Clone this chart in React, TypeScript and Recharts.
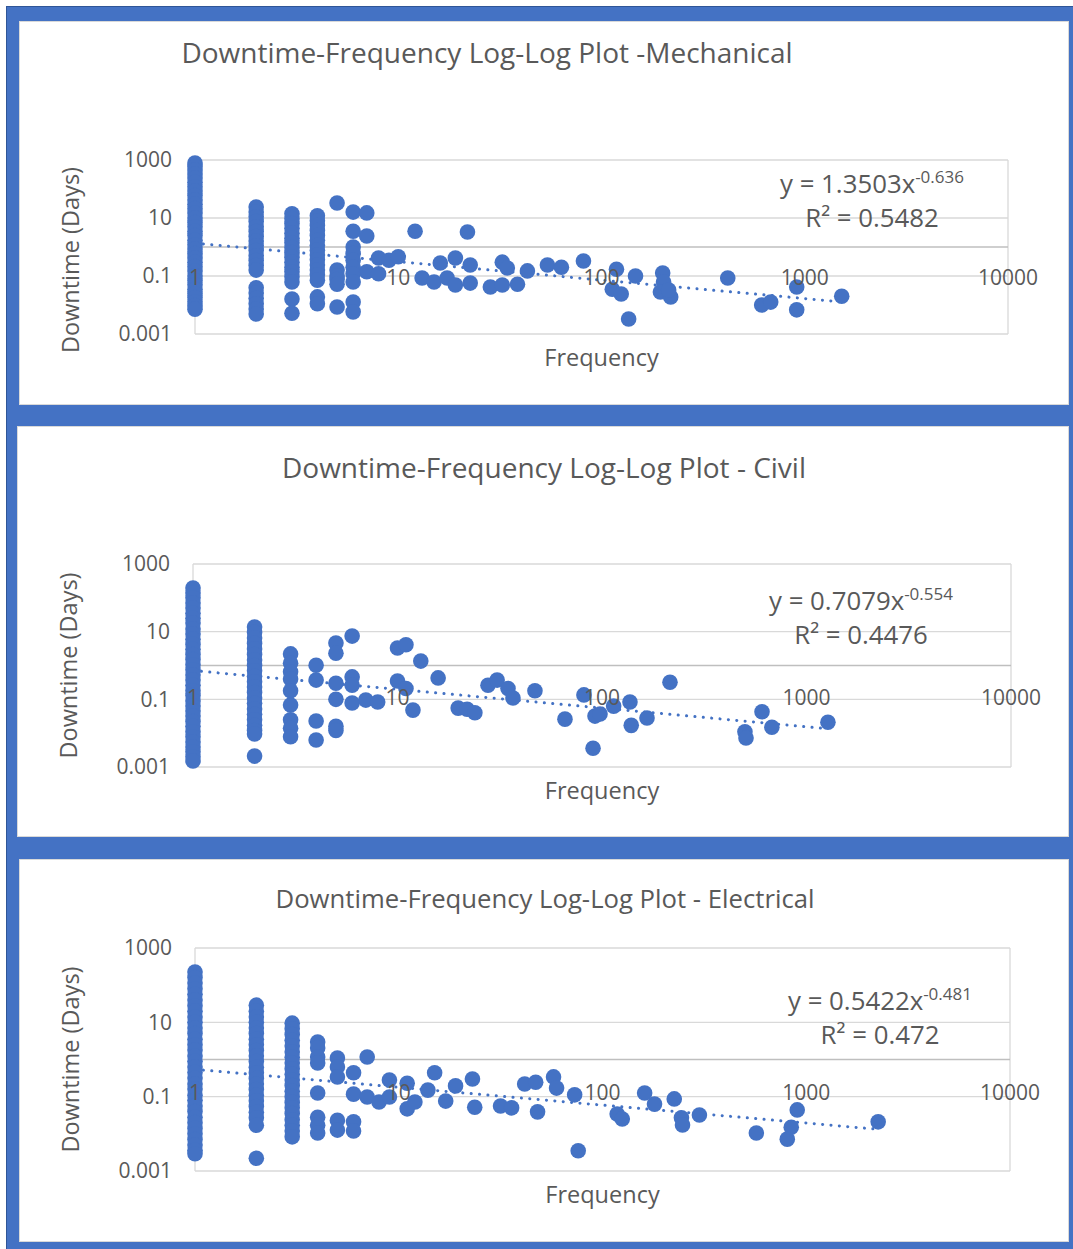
import React from "react";
import {
  ScatterChart,
  Scatter,
  XAxis,
  YAxis,
  CartesianGrid,
  ReferenceLine,
  ReferenceDot,
} from "recharts";

const FONT = "'Open Sans', 'Noto Sans', sans-serif";
const BLUE = "#4472C4";
const GREY_TEXT = "#595959";

const X_TICKS = [1, 10, 100, 1000, 10000];
const Y_TICKS = [0.001, 0.1, 10, 1000];

// [frequency, downtime in days]
const mechanical: [number, number][] = [
  [1, 790], [1, 600], [1, 450], [1, 330], [1, 240], [1, 170], [1, 120], [1, 85], [1, 60],
  [1, 42], [1, 30], [1, 21], [1, 15], [1, 10], [1, 7], [1, 5], [1, 3.5], [1, 2.5], [1, 1.7],
  [1, 1.2], [1, 0.85], [1, 0.6], [1, 0.42], [1, 0.3], [1, 0.21], [1, 0.15], [1, 0.1],
  [1, 0.07], [1, 0.05], [1, 0.035], [1, 0.025], [1, 0.018], [1, 0.013], [1, 0.0095], [1, 0.0072],
  [2, 24], [2, 16], [2, 11], [2, 7.5], [2, 5], [2, 3.4], [2, 2.3], [2, 1.6], [2, 1.1], [2, 0.75],
  [2, 0.5], [2, 0.34], [2, 0.23], [2, 0.16], [2, 0.039], [2, 0.026], [2, 0.017], [2, 0.011],
  [2, 0.0073], [2, 0.0049],
  [3, 14], [3, 9.5], [3, 6.5], [3, 4.4], [3, 3], [3, 2], [3, 1.4], [3, 0.95], [3, 0.65],
  [3, 0.44], [3, 0.3], [3, 0.2], [3, 0.14], [3, 0.095], [3, 0.062], [3, 0.016], [3, 0.0052],
  [4, 12], [4, 8], [4, 5.5], [4, 3.7], [4, 2.5], [4, 1.7], [4, 1.15], [4, 0.78], [4, 0.53],
  [4, 0.36], [4, 0.24], [4, 0.16], [4, 0.11], [4, 0.072], [4, 0.019], [4, 0.011],
  [5, 33], [5, 0.16], [5, 0.1], [5, 0.075], [5, 0.052], [5, 0.0085],
  [6, 16], [6, 3.5], [6, 1], [6, 0.6], [6, 0.35], [6, 0.2], [6, 0.12], [6, 0.062], [6, 0.0126], [6, 0.0058],
  [7, 15], [7, 2.4], [7, 0.14],
  [8, 0.42], [8, 0.12], [9, 0.35], [10, 0.46],
  [12.1, 3.5], [13.1, 0.085], [15, 0.062], [16.1, 0.28], [17.4, 0.085], [19.1, 0.42], [19.1, 0.049],
  [21.9, 3.3], [22.6, 0.24], [22.6, 0.057], [28.4, 0.042], [32.5, 0.049], [32.5, 0.3], [34.4, 0.19],
  [38.6, 0.052], [43.2, 0.15], [54.2, 0.24], [63.5, 0.2], [81.5, 0.33],
  [118.5, 0.17], [113, 0.035], [125, 0.024], [147, 0.1], [136, 0.0033],
  [200, 0.126], [202, 0.062], [195, 0.028], [219, 0.019], [214, 0.033],
  [418, 0.085], [614, 0.01], [680, 0.0126], [913, 0.042], [913, 0.0068], [1520, 0.02],
];

const civil: [number, number][] = [
  [1, 195], [1, 140], [1, 100], [1, 70], [1, 50], [1, 35], [1, 25], [1, 18], [1, 12], [1, 8.5],
  [1, 6], [1, 4.2], [1, 3], [1, 2.1], [1, 1.5], [1, 1.05], [1, 0.75], [1, 0.52], [1, 0.37],
  [1, 0.26], [1, 0.18], [1, 0.13], [1, 0.09], [1, 0.063], [1, 0.045], [1, 0.032], [1, 0.022],
  [1, 0.016], [1, 0.011], [1, 0.0078], [1, 0.0055], [1, 0.0039], [1, 0.0028], [1, 0.002], [1, 0.0015],
  [2, 13.7], [2, 9.5], [2, 6.5], [2, 4.5], [2, 3.1], [2, 2.1], [2, 1.45], [2, 1], [2, 0.7],
  [2, 0.48], [2, 0.33], [2, 0.23], [2, 0.16], [2, 0.11], [2, 0.076], [2, 0.052], [2, 0.036],
  [2, 0.025], [2, 0.017], [2, 0.012], [2, 0.0095], [2, 0.0021],
  [3, 2.2], [3, 1.17], [3, 0.65], [3, 0.4], [3, 0.18], [3, 0.068], [3, 0.025], [3, 0.014], [3, 0.0078],
  [4, 1.02], [4, 0.37], [4, 0.023], [4, 0.0063],
  [5, 4.6], [5, 2.3], [5, 0.3], [5, 0.1], [5, 0.016], [5, 0.012],
  [6, 7.4], [6, 0.46], [6, 0.26], [6, 0.078],
  [7, 0.095], [8, 0.083], [10, 3.3], [10, 0.35], [11, 4.1], [11, 0.21], [11.9, 0.048], [13, 1.35],
  [15.8, 0.43], [19.8, 0.055], [21.9, 0.051], [23.9, 0.04], [27.7, 0.26], [30.7, 0.37], [34.7, 0.21],
  [36.7, 0.11], [47, 0.18], [65.9, 0.026], [81.6, 0.135], [90.4, 0.0036], [92.4, 0.032], [97.8, 0.037],
  [114, 0.063], [137, 0.083], [139, 0.017], [166, 0.028], [215, 0.32],
  [500, 0.011], [506, 0.0072], [606, 0.043], [677, 0.015], [1273, 0.021],
];

const electrical: [number, number][] = [
  [1, 225], [1, 160], [1, 115], [1, 80], [1, 57], [1, 40], [1, 28], [1, 20], [1, 14], [1, 10],
  [1, 7], [1, 5], [1, 3.5], [1, 2.5], [1, 1.8], [1, 1.25], [1, 0.9], [1, 0.63], [1, 0.45],
  [1, 0.32], [1, 0.22], [1, 0.16], [1, 0.11], [1, 0.08], [1, 0.056], [1, 0.04], [1, 0.028],
  [1, 0.02], [1, 0.014], [1, 0.01], [1, 0.007], [1, 0.005], [1, 0.0036], [1, 0.0029],
  [2, 29], [2, 20], [2, 14], [2, 10], [2, 7], [2, 5], [2, 3.5], [2, 2.5], [2, 1.75], [2, 1.25],
  [2, 0.88], [2, 0.62], [2, 0.44], [2, 0.31], [2, 0.22], [2, 0.155], [2, 0.11], [2, 0.077],
  [2, 0.054], [2, 0.038], [2, 0.027], [2, 0.017], [2, 0.0022],
  [3, 9.5], [3, 6.7], [3, 4.7], [3, 3.3], [3, 2.3], [3, 1.6], [3, 1.15], [3, 0.8], [3, 0.56],
  [3, 0.4], [3, 0.28], [3, 0.2], [3, 0.14], [3, 0.1], [3, 0.07], [3, 0.05], [3, 0.035],
  [3, 0.024], [3, 0.017], [3, 0.012], [3, 0.0083],
  [4, 2.95], [4, 2.05], [4, 1.17], [4, 0.81], [4, 0.126], [4, 0.028], [4, 0.017], [4, 0.0105],
  [5, 1.1], [5, 0.63], [5, 0.34], [5, 0.023], [5, 0.0126],
  [6, 0.44], [6, 0.117], [6, 0.021], [6, 0.012],
  [7, 1.17], [7, 0.098], [8, 0.072], [9, 0.28], [9, 0.098], [11, 0.23], [11, 0.047], [12, 0.072],
  [13.9, 0.15], [15, 0.44], [17, 0.076], [19, 0.195], [23, 0.3], [23.6, 0.052], [31.6, 0.056],
  [35.8, 0.05], [41.5, 0.22], [47, 0.245], [48, 0.039], [57.5, 0.34], [59.5, 0.17], [73, 0.112],
  [76, 0.0035], [118, 0.034], [125, 0.025], [161, 0.126], [180, 0.063], [225, 0.087], [244, 0.027],
  [247, 0.0174], [299, 0.032], [569, 0.0105], [807, 0.0072], [844, 0.015], [903, 0.044], [2254, 0.021],
];

// power trendline: coefficient, exponent, R²
const mechFit = [1.3503, -0.636, 0.5482];
const civilFit = [0.7079, -0.554, 0.4476];
const elecFit = [0.5422, -0.481, 0.472];

const Marker = (p: any) => <circle cx={p.cx} cy={p.cy} r={7.8} fill={BLUE} />;

const YTitle = ({ viewBox, dx, dy }: any) => {
  const x = viewBox.x + dx;
  const y = viewBox.y + viewBox.height / 2 + dy;
  return (
    <text
      x={x}
      y={y}
      transform={`rotate(-90 ${x} ${y})`}
      textAnchor="middle"
      dominantBaseline="central"
      fill={GREY_TEXT}
      fontSize={23.5}
      fontFamily={FONT}
    >
      Downtime (Days)
    </text>
  );
};

const XTitle = ({ viewBox, dy }: any) => (
  <text
    x={viewBox.x + viewBox.width / 2}
    y={viewBox.y + dy}
    textAnchor="middle"
    dominantBaseline="central"
    fill={GREY_TEXT}
    fontSize={23.5}
    fontFamily={FONT}
  >
    Frequency
  </text>
);

function Panel({ box, plot, points, fit, title, titleSize, titlePos, eqPos, yTitleDx, yTitleDy, tickOffset }: any) {
  const data = points.map(([x, y]: [number, number]) => ({ x, y }));
  const xEnd = Math.max(...points.map((p: [number, number]) => p[0]));
  const [a, b, r2] = fit;
  return (
    <>
      <div
        style={{
          position: "absolute",
          left: box.left,
          top: box.top,
          width: box.width,
          height: box.height,
          background: "#fff",
          boxShadow: "inset 0 0 0 1px #D9D9D9",
        }}
      >
        <ScatterChart
          width={box.width}
          height={box.height}
          margin={{ top: plot.top - box.top, right: box.left + box.width - plot.right, bottom: 0, left: 0 }}
        >
          <CartesianGrid stroke="#D9D9D9" strokeWidth={1.3} />
          <XAxis
            type="number"
            dataKey="x"
            scale="log"
            domain={[1, 10000]}
            ticks={X_TICKS}
            tick={false}
            tickLine={false}
            axisLine={false}
            height={box.top + box.height - plot.bottom}
            label={<XTitle dy={23} />}
          />
          <YAxis
            type="number"
            dataKey="y"
            scale="log"
            domain={[0.001, 1000]}
            ticks={Y_TICKS}
            width={plot.left - box.left}
            tickSize={0}
            tickMargin={23}
            axisLine={false}
            tickLine={false}
            tick={{ fill: GREY_TEXT, fontSize: 21, fontFamily: FONT }}
            tickFormatter={(v: number) => String(v)}
            label={<YTitle dx={yTitleDx} dy={yTitleDy} />}
          />
          <ReferenceLine y={1} stroke="#BFBFBF" strokeWidth={1.5} />
          <ReferenceLine
            segment={[
              { x: 1, y: a },
              { x: xEnd, y: a * Math.pow(xEnd, b) },
            ]}
            stroke={BLUE}
            strokeWidth={3}
            strokeDasharray="0.1 8.3"
            strokeLinecap="round"
          />
          <Scatter data={data} fill={BLUE} shape={Marker} isAnimationActive={false} />
          {X_TICKS.map((t) => (
            <ReferenceDot
              key={t}
              x={t}
              y={1}
              r={0}
              fill="none"
              stroke="none"
              label={{ value: String(t), position: "bottom", offset: tickOffset, fill: GREY_TEXT, fontSize: 21, fontFamily: FONT }}
            />
          ))}
        </ScatterChart>
      </div>
      <div
        style={{
          position: "absolute",
          left: titlePos.cx,
          top: titlePos.cy,
          transform: "translate(-50%, -50%)",
          fontSize: titleSize,
          lineHeight: 1.2,
          color: GREY_TEXT,
          whiteSpace: "nowrap",
          fontFamily: FONT,
        }}
      >
        {title}
      </div>
      <div
        style={{
          position: "absolute",
          left: eqPos.cx,
          top: eqPos.top,
          transform: "translateX(-50%)",
          textAlign: "center",
          fontSize: 25.8,
          lineHeight: "34px",
          color: GREY_TEXT,
          whiteSpace: "nowrap",
          fontFamily: FONT,
        }}
      >
        <div>
          y = {a}x
          <span style={{ fontSize: 17, position: "relative", top: "-0.6em", lineHeight: 0 }}>{b}</span>
        </div>
        <div>R² = {r2}</div>
      </div>
    </>
  );
}

export default function App() {
  return (
    <div style={{ position: "absolute", left: 0, top: 0, width: 1073, height: 1249, background: "#fff", fontFamily: FONT }}>
      <div
        style={{
          position: "absolute",
          left: 6,
          top: 6,
          width: 1067,
          height: 1243,
          background: BLUE,
          borderTop: "1px solid #2F5597",
          borderLeft: "1px solid #2F5597",
          boxSizing: "border-box",
        }}
      />
      <Panel
        box={{ left: 19, top: 21, width: 1050, height: 384 }}
        plot={{ left: 195, right: 1008, top: 160, bottom: 334 }}
        points={mechanical}
        fit={mechFit}
        title="Downtime-Frequency Log-Log Plot -Mechanical"
        titleSize={28}
        titlePos={{ cx: 487, cy: 53 }}
        eqPos={{ cx: 872, top: 166 }}
        yTitleDx={51}
        yTitleDy={13}
        tickOffset={23}
      />
      <Panel
        box={{ left: 17, top: 426, width: 1052, height: 411 }}
        plot={{ left: 193, right: 1011, top: 564, bottom: 767 }}
        points={civil}
        fit={civilFit}
        title="Downtime-Frequency Log-Log Plot - Civil"
        titleSize={28}
        titlePos={{ cx: 544, cy: 468 }}
        eqPos={{ cx: 861, top: 583 }}
        yTitleDx={51}
        yTitleDy={0}
        tickOffset={25}
      />
      <Panel
        box={{ left: 19, top: 859, width: 1050, height: 383 }}
        plot={{ left: 195, right: 1010, top: 948, bottom: 1171 }}
        points={electrical}
        fit={elecFit}
        title="Downtime-Frequency Log-Log Plot - Electrical"
        titleSize={25.7}
        titlePos={{ cx: 545, cy: 899 }}
        eqPos={{ cx: 880, top: 983 }}
        yTitleDx={51}
        yTitleDy={0}
        tickOffset={26}
      />
    </div>
  );
}
